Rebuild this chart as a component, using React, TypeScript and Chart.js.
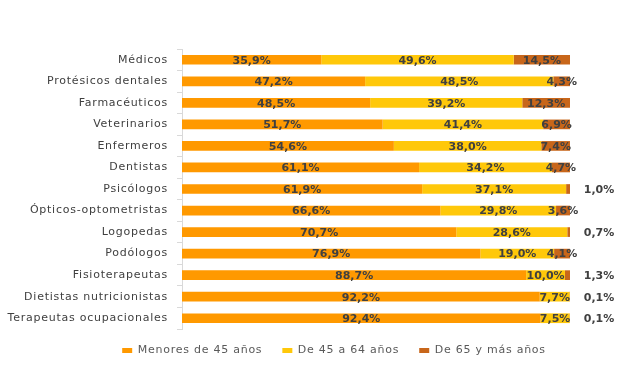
import React, { useEffect, useRef } from "react";
import { Chart, registerables } from "chart.js";

Chart.register(...registerables);

const categories = [
  "Médicos",
  "Protésicos dentales",
  "Farmacéuticos",
  "Veterinarios",
  "Enfermeros",
  "Dentistas",
  "Psicólogos",
  "Ópticos-optometristas",
  "Logopedas",
  "Podólogos",
  "Fisioterapeutas",
  "Dietistas nutricionistas",
  "Terapeutas ocupacionales",
];

const menores45 = [35.9, 47.2, 48.5, 51.7, 54.6, 61.1, 61.9, 66.6, 70.7, 76.9, 88.7, 92.2, 92.4];
const de45a64 = [49.6, 48.5, 39.2, 41.4, 38.0, 34.2, 37.1, 29.8, 28.6, 19.0, 10.0, 7.7, 7.5];
const de65ymas = [14.5, 4.3, 12.3, 6.9, 7.4, 4.7, 1.0, 3.6, 0.7, 4.1, 1.3, 0.1, 0.1];

const seriesNames = ["Menores de 45 años", "De 45 a 64 años", "De 65 y más años"];
const seriesColors = ["#FF9900", "#FFC80A", "#C8661A"];

const fmt = (v: number) => v.toFixed(1).replace(".", ",") + "%";

const spacingPlugin = {
  id: "letterSpacing",
  beforeLayout(chart: any) {
    chart.ctx.letterSpacing = "0.75px";
  },
  afterLayout(chart: any) {
    const lg = chart.legend;
    if (lg) {
      lg.top -= 4;
      lg.bottom -= 4;
      lg.left += 49;
      lg.right += 49;
    }
  },
  beforeDraw(chart: any) {
    chart.ctx.letterSpacing = "0.75px";
  },
};

const labelPlugin = {
  id: "barLabels",
  afterDatasetsDraw(chart: any) {
    const ctx = chart.ctx;
    ctx.save();
    ctx.letterSpacing = "0px";
    ctx.font = "bold 11px 'DejaVu Sans'";
    ctx.fillStyle = "#404040";
    ctx.textAlign = "center";
    ctx.textBaseline = "middle";
    chart.data.datasets.forEach((ds: any, di: number) => {
      const meta = chart.getDatasetMeta(di);
      meta.data.forEach((el: any, i: number) => {
        const v = ds.data[i];
        let x = (el.x + el.base) / 2;
        if (di === 2 && v < 2) x = chart.chartArea.right + 29;
        ctx.fillText(fmt(v), x, el.y + 1);
      });
    });
    ctx.restore();
  },
};

export default function App() {
  const ref = useRef<HTMLCanvasElement | null>(null);
  useEffect(() => {
    if (!ref.current) return;
    const chart = new Chart(ref.current, {
      type: "bar",
      data: {
        labels: categories,
        datasets: [menores45, de45a64, de65ymas].map((d, i) => ({
          label: seriesNames[i],
          data: d,
          backgroundColor: seriesColors[i],
          borderWidth: 0,
          barPercentage: 0.9,
          categoryPercentage: 0.5,
        })),
      },
      options: {
        indexAxis: "y",
        animation: false,
        responsive: true,
        maintainAspectRatio: false,
        layout: { padding: { top: 49, right: 50, left: 0, bottom: -2 } },
        scales: {
          x: { stacked: true, min: 0, max: 100, display: false },
          y: {
            stacked: true,
            afterFit: (scale: any) => {
              scale.width = 182;
            },
            border: { display: true, color: "#D9D9D9" },
            grid: { drawOnChartArea: false, tickLength: 5, color: "#D9D9D9", offset: true },
            ticks: {
              color: "#404040",
              font: { family: "'DejaVu Sans'", size: 11 },
              padding: 9,
            },
          },
        },
        plugins: {
          legend: {
            position: "bottom",
            labels: {
              boxWidth: 10,
              boxHeight: 5,
              padding: 20,
              color: "#595959",
              font: { family: "'DejaVu Sans'", size: 11 },
            },
          },
          tooltip: { enabled: false },
        },
      },
      plugins: [spacingPlugin, labelPlugin],
    });
    return () => chart.destroy();
  }, []);
  return (
    <div style={{ position: "absolute", left: 0, top: 0, width: 620, height: 368, background: "#fff" }}>
      <canvas ref={ref} />
    </div>
  );
}
